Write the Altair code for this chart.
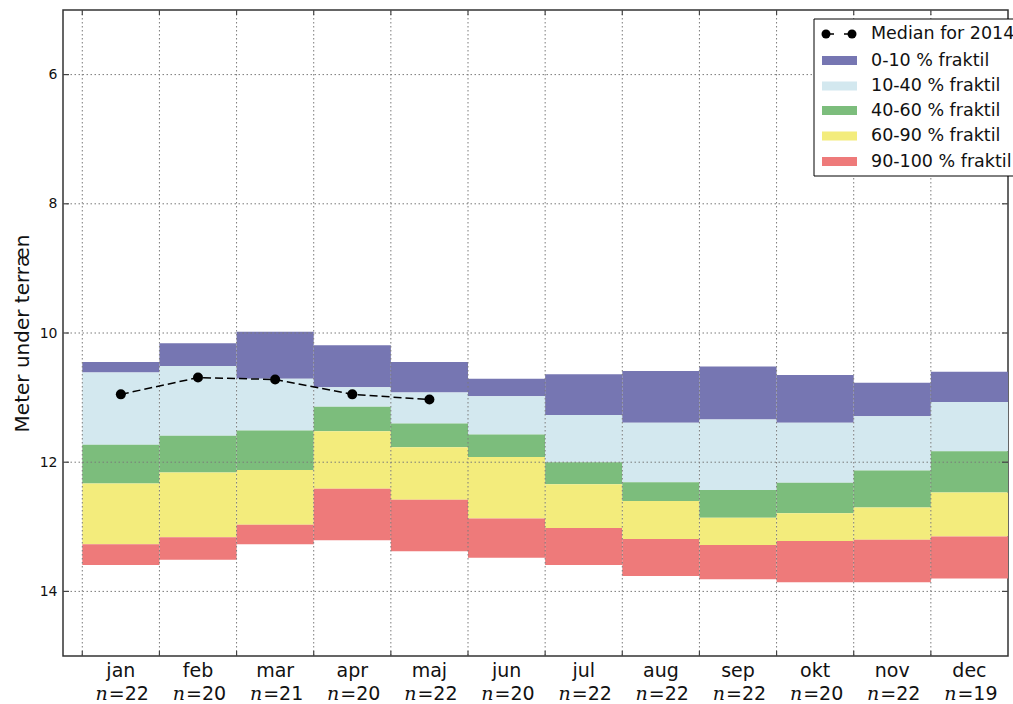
import altair as alt
import pandas as pd

# Monthly groundwater depth percentiles (metres below ground)
months = ["jan", "feb", "mar", "apr", "maj", "jun", "jul", "aug", "sep", "okt", "nov", "dec"]
counts = [22, 20, 21, 20, 22, 20, 22, 22, 22, 20, 22, 19]

q000 = [10.45, 10.16, 9.98, 10.19, 10.45, 10.71, 10.64, 10.59, 10.52, 10.65, 10.77, 10.60]
q010 = [10.61, 10.51, 10.71, 10.84, 10.92, 10.98, 11.27, 11.39, 11.34, 11.39, 11.29, 11.07]
q040 = [11.73, 11.59, 11.51, 11.14, 11.40, 11.57, 12.00, 12.31, 12.43, 12.32, 12.13, 11.83]
q060 = [12.33, 12.16, 12.12, 11.52, 11.77, 11.92, 12.34, 12.60, 12.86, 12.79, 12.70, 12.47]
q090 = [13.27, 13.16, 12.97, 12.41, 12.58, 12.87, 13.02, 13.19, 13.28, 13.22, 13.20, 13.15]
q100 = [13.59, 13.51, 13.27, 13.21, 13.38, 13.48, 13.59, 13.76, 13.81, 13.86, 13.86, 13.80]

median_2014 = [10.95, 10.69, 10.72, 10.95, 11.03]

band_labels = ["0-10 % fraktil", "10-40 % fraktil", "40-60 % fraktil",
               "60-90 % fraktil", "90-100 % fraktil"]
band_colors = ["#7676b2", "#d3e8ef", "#7cbd7c", "#f3ec7c", "#ee7a7a"]

y_ticks = [6, 8, 10, 12, 14]

W, H = 945, 646
FONT = "DejaVu Sans"

# ---- tables built from the arrays above ----
bounds = [q000, q010, q040, q060, q090, q100]
bar_rows = []
for i, m in enumerate(months):
    for b, lab in enumerate(band_labels):
        bar_rows.append({"month": m, "x0": i + 0.5, "x1": i + 1.5,
                         "top": bounds[b][i], "bottom": bounds[b + 1][i], "band": lab})
bars_df = pd.DataFrame(bar_rows)

month_df = pd.DataFrame({
    "month": months,
    "center": [i + 1 for i in range(len(months))],
    "edge": [i + 0.5 for i in range(len(months))],
    "neq": ["=" + str(c) for c in counts],
})
median_df = pd.DataFrame({"center": [i + 1 for i in range(len(median_2014))],
                          "depth": median_2014})
ytick_df = pd.DataFrame({"v": y_ticks})
one = pd.DataFrame({"k": [0]})

xs = alt.Scale(domain=[0.25, 12.5], nice=False, zero=False)
ys = alt.Scale(domain=[5, 15], reverse=True, nice=False, zero=False)

# one shared left axis definition, used by every layer with a y field
y_axis = alt.Axis(
    values=y_ticks, grid=False, ticks=False, tickSize=0, domain=False,
    labelFont=FONT, labelFontSize=14, labelColor="#111", labelPadding=6,
    title="Meter under terræn", titleFont=FONT, titleFontSize=20,
    titleFontWeight="normal", titleColor="#111", titleAngle=270,
    titleAlign="center", titleBaseline="middle", titleX=-41, titleY=H / 2)


def Y(field):
    return alt.Y(field, scale=ys, axis=y_axis)


def X(field):
    return alt.X(field, scale=xs, axis=None)


# ---- percentile bands ----
bars = alt.Chart(bars_df).mark_rect(strokeWidth=0).encode(
    x=X("x0:Q"), x2="x1:Q",
    y=Y("top:Q"), y2="bottom:Q",
    color=alt.Color("band:N", scale=alt.Scale(domain=band_labels, range=band_colors),
                    legend=None),
)

# ---- dotted grid drawn over the bands ----
grid_style = dict(color="#7a7a7a", strokeWidth=1, strokeDash=[1.5, 2.5])
vgrid = alt.Chart(month_df).mark_rule(**grid_style).encode(x=X("edge:Q"))
hgrid = alt.Chart(ytick_df).mark_rule(**grid_style).encode(y=Y("v:Q"))

# ---- inward ticks on all four sides ----
tick_style = dict(color="#444", strokeWidth=1.2)
xt_bottom = alt.Chart(month_df).mark_rule(**tick_style).encode(
    x=X("edge:Q"), y=alt.value(H), y2=alt.value(H - 5))
xt_top = alt.Chart(month_df).mark_rule(**tick_style).encode(
    x=X("edge:Q"), y=alt.value(0), y2=alt.value(5))
yt_left = alt.Chart(ytick_df).mark_rule(**tick_style).encode(
    y=Y("v:Q"), x=alt.value(0), x2=alt.value(6))
yt_right = alt.Chart(ytick_df).mark_rule(**tick_style).encode(
    y=Y("v:Q"), x=alt.value(W - 6), x2=alt.value(W))

# ---- 2014 median ----
med_line = alt.Chart(median_df).mark_line(color="black", strokeWidth=1.5,
                                          strokeDash=[8, 4]).encode(
    x=X("center:Q"), y=Y("depth:Q"))
med_pts = alt.Chart(median_df).mark_point(filled=True, color="black", size=100,
                                          opacity=1).encode(
    x=X("center:Q"), y=Y("depth:Q"))

# ---- month labels with sample counts ----
lab_month = alt.Chart(month_df).mark_text(font=FONT, fontSize=19, color="#111",
                                          baseline="alphabetic").encode(
    x=X("center:Q"), y=alt.value(H + 21), text="month:N")
lab_n = alt.Chart(month_df).mark_text(font="DejaVu Serif", fontStyle="italic",
                                      fontSize=19, color="#111", align="right",
                                      baseline="alphabetic", dx=-13).encode(
    x=X("center:Q"), y=alt.value(H + 44), text=alt.value("n"))
lab_eq = alt.Chart(month_df).mark_text(font=FONT, fontSize=19, color="#111",
                                       align="left", baseline="alphabetic",
                                       dx=-12).encode(
    x=X("center:Q"), y=alt.value(H + 44), text="neq:N")

# ---- legend box in the upper right ----
LX0, LX1, LY0, LY1 = 751, 955, 9, 166
row_y = [24, 50.5, 76, 100.5, 126, 151.5]
sw_x0, sw_x1, txt_x = 759, 794, 808

legend_layers = [
    alt.Chart(one).mark_rect(fill="white", stroke="black", strokeWidth=1).encode(
        x=alt.value(LX0), x2=alt.value(LX1), y=alt.value(LY0), y2=alt.value(LY1)),
    alt.Chart(one).mark_rule(color="black", strokeWidth=1.5, strokeDash=[8, 10]).encode(
        x=alt.value(763), x2=alt.value(789), y=alt.value(row_y[0])),
    alt.Chart(pd.DataFrame({"px": [763, 789]})).mark_point(
        filled=True, color="black", size=81, opacity=1).encode(
        x=alt.X("px:Q", scale=None, axis=None), y=alt.value(row_y[0])),
    alt.Chart(one).mark_text(font=FONT, fontSize=17.5, color="#111", align="left",
                             baseline="middle").encode(
        x=alt.value(txt_x), y=alt.value(row_y[0]), text=alt.value("Median for 2014")),
]
for lab, col, yy in zip(band_labels, band_colors, row_y[1:]):
    legend_layers.append(
        alt.Chart(one).mark_rect(fill=col, strokeWidth=0).encode(
            x=alt.value(sw_x0), x2=alt.value(sw_x1),
            y=alt.value(yy - 4.5), y2=alt.value(yy + 4.5)))
    legend_layers.append(
        alt.Chart(one).mark_text(font=FONT, fontSize=17.5, color="#111", align="left",
                                 baseline="middle").encode(
            x=alt.value(txt_x), y=alt.value(yy), text=alt.value(lab)))

chart = alt.layer(
    bars, vgrid, hgrid, med_line, med_pts,
    xt_bottom, xt_top, yt_left, yt_right,
    lab_month, lab_n, lab_eq,
    *legend_layers,
).properties(
    width=W, height=H,
    autosize=alt.AutoSizeParams(type="none"),
    padding={"left": 63, "top": 10, "right": 5, "bottom": 48},
    background="white",
).configure_view(
    stroke="#333", strokeWidth=1.5,
)

chart.save("out.html", embed_options={"renderer": "svg", "actions": False})
